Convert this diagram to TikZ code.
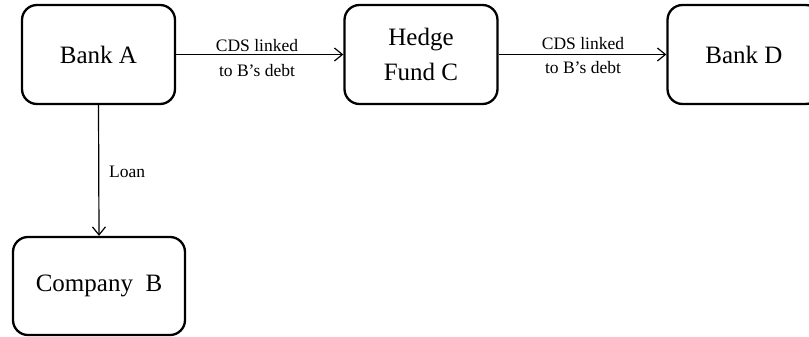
\documentclass[tikz,border=0pt]{standalone}
\usepackage{fontspec}
\setmainfont{Liberation Serif}
\usetikzlibrary{arrows.meta}
\begin{document}
\begin{tikzpicture}[x=1pt,y=-1pt,
  entity/.style={draw=black, line width=2.3pt, rounded corners=15pt, minimum width=153pt, minimum height=99pt, align=center, font=\fontsize{25}{35}\selectfont, inner sep=0pt},
  flow/.style={line width=1.2pt, -{Straight Barb[length=8pt,width=13pt,line width=1.2pt]}},
  lbl/.style={font=\fontsize{17.5}{25}\selectfont, inner sep=0pt}]
\useasboundingbox (0,0) rectangle (809,337);
\node[entity] (A) at (98.5,54.5) {Bank A};
\node[entity] (C) at (421,54.5) {Hedge\\Fund C};
\node[entity] (D) at (744,54.5) {Bank D};
\node[entity, minimum width=172pt, minimum height=98pt] (B) at (99,286) {Company~~B};
\draw[flow] (A.east) -- (C.west);
\draw[flow] (C.east) -- (D.west);
\draw[flow] (A.south) -- (B.north);
\node[lbl, anchor=base] (l1a) at (257,52) {CDS linked};
\node[lbl, anchor=base] (l1b) at (257,77) {to B's debt};
\node[lbl, anchor=base] (l2a) at (583,50) {CDS linked};
\node[lbl, anchor=base] (l2b) at (583,74) {to B's debt};
\node[lbl, anchor=base west] (l3) at (109,177) {Loan};
\end{tikzpicture}
\end{document}
